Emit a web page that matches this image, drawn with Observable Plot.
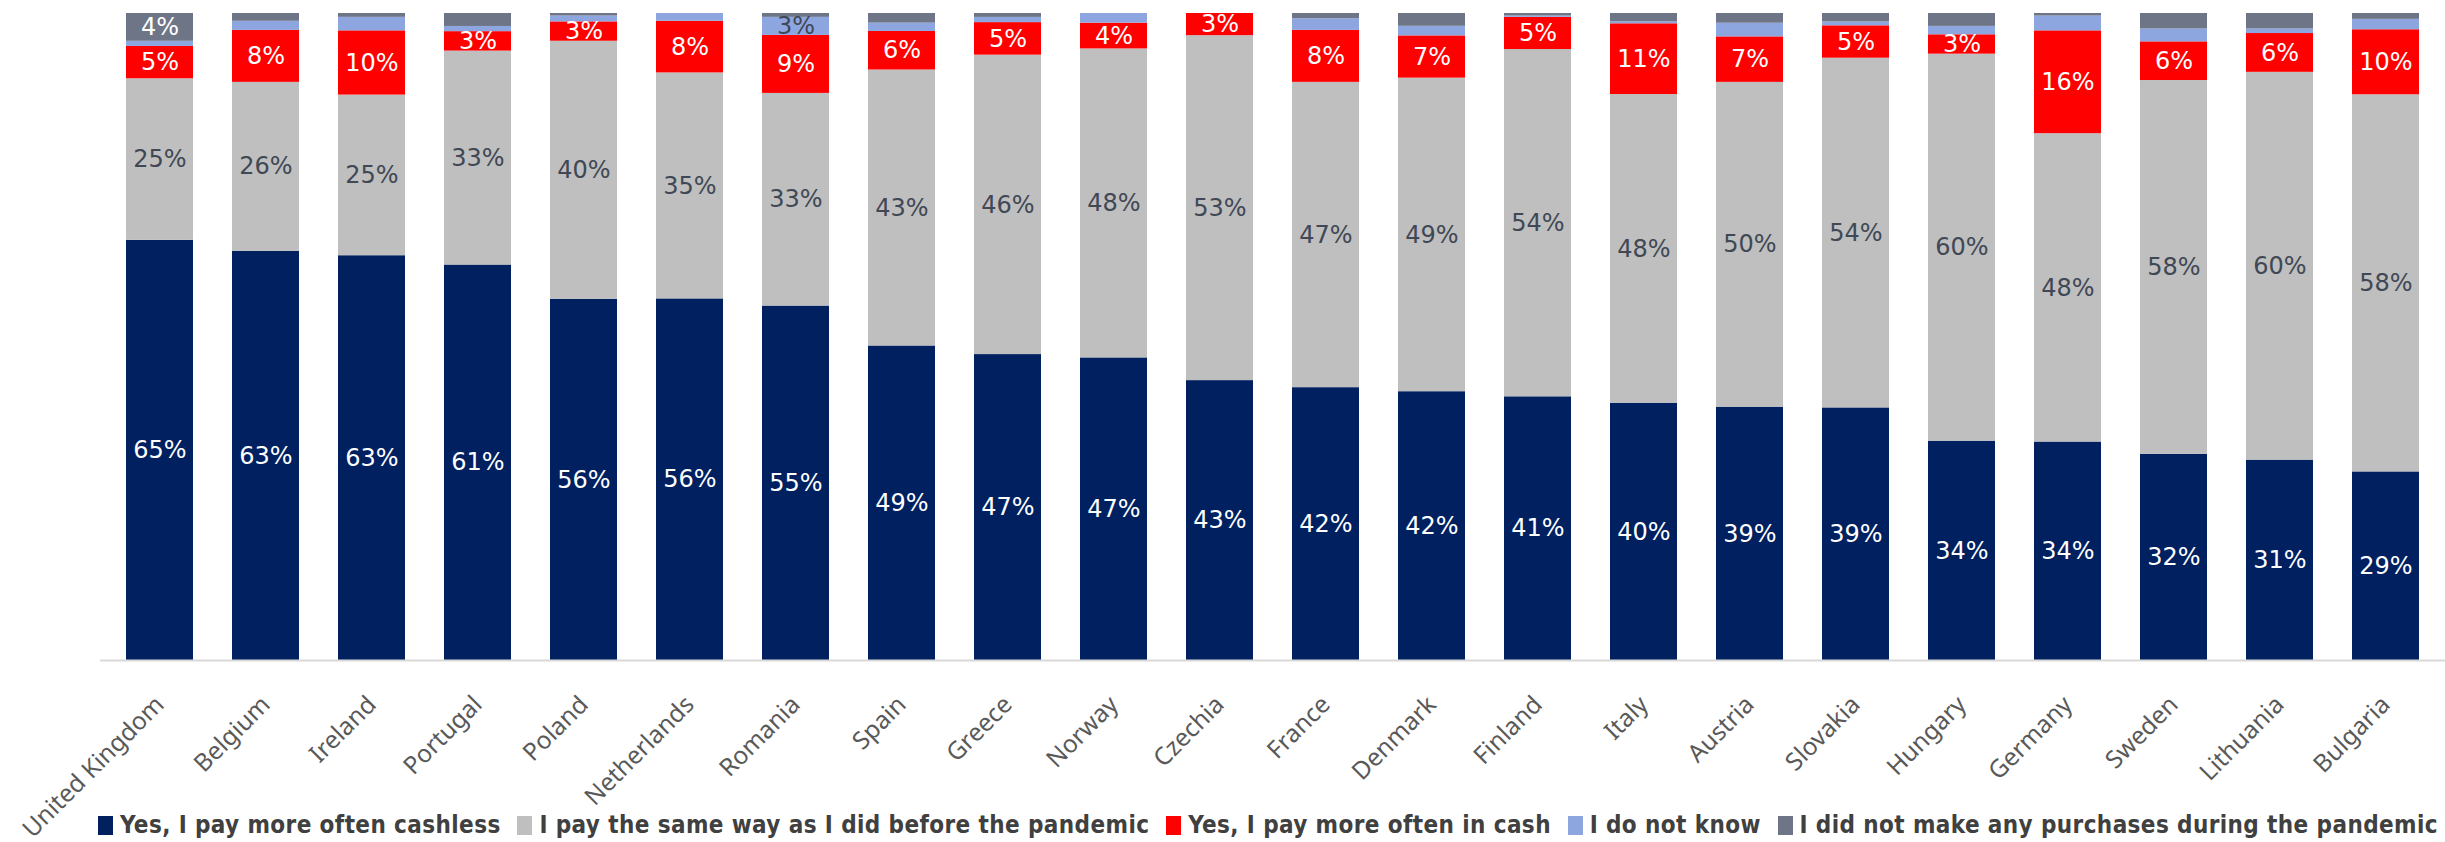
<!DOCTYPE html>
<html>
<head>
<meta charset="utf-8">
<script src="https://cdn.jsdelivr.net/npm/d3@7"></script>
<script src="https://cdn.jsdelivr.net/npm/@observablehq/plot@0.6"></script>
<style>
  html, body { margin: 0; padding: 0; background: #fff; }
  #wrap { position: relative; width: 2445px; height: 842px; overflow: hidden; }
  #chart svg { display: block; }
  #legend { position: absolute; left: 98px; top: 808px; width: 2340px; display: flex; justify-content: space-between; align-items: center; height: 34px;
    font-family: "DejaVu Sans Condensed", "DejaVu Sans", sans-serif; font-weight: bold; font-size: 24px; letter-spacing: 0.4px; color: #404040; white-space: nowrap; }
  #legend .item { display: flex; align-items: center; }
  #legend .sw { width: 15px; height: 19px; margin-right: 7px; }
</style>
</head>
<body>
<div id="wrap">
<div id="chart"></div>
<div id="legend"></div>
</div>
<script>
const countries = ["United Kingdom","Belgium","Ireland","Portugal","Poland","Netherlands","Romania","Spain","Greece","Norway","Czechia","France","Denmark","Finland","Italy","Austria","Slovakia","Hungary","Germany","Sweden","Lithuania","Bulgaria"];
const seriesNames = ["Yes, I pay more often cashless","I pay the same way as I did before the pandemic","Yes, I pay more often in cash","I do not know","I did not make any purchases during the pandemic"];
const seriesColors = ["#002060","#BFBFBF","#FF0000","#8EA6E0","#6E7587"];
const labelColors = ["#ffffff","#404855","#ffffff","#404855","#ffffff"];

const cashless = [65,63,63,61,56,56,55,49,47,47,43,42,42,41,40,39,39,34,34,32,31,29];
const same     = [25,26,25,33,40,35,33,43,46,48,53,47,49,54,48,50,54,60,48,58,60,58];
const cash     = [5,8,10,3,3,8,9,6,5,4,3.4,8,6.6,5,11,7,5,3,16,6,6,10];
const dontKnow = [0.8,1.4,2.1,0.8,0.9,1.2,2.8,1.3,0.8,1.5,0,1.8,1.5,0.2,0.3,2.1,0.6,1.3,2.3,2.0,0.7,1.6];
const noPurch  = [4.3,1.2,0.6,2.0,0.4,0,0.6,1.5,0.6,0,0,0.8,2.0,0.4,1.3,1.5,1.3,2.0,0.4,2.4,2.4,0.9];
const labelled = [[1,1,1,1,1,1,1,1,1,1,1,1,1,1,1,1,1,1,1,1,1,1],
                  [1,1,1,1,1,1,1,1,1,1,1,1,1,1,1,1,1,1,1,1,1,1],
                  [1,1,1,1,1,1,1,1,1,1,1,1,1,1,1,1,1,1,1,1,1,1],
                  [0,0,0,0,0,0,1,0,0,0,0,0,0,0,0,0,0,0,0,0,0,0],
                  [1,0,0,0,0,0,0,0,0,0,0,0,0,0,0,0,0,0,0,0,0,0]];

const allSeries = [cashless, same, cash, dontKnow, noPurch];
const data = [];
allSeries.forEach((vals, si) => {
  countries.forEach((c, ci) => {
    data.push({country: c, series: seriesNames[si], si, value: vals[ci], show: labelled[si][ci] === 1});
  });
});

const stackOpts = {x: "country", y: "value", z: "series", order: seriesNames, offset: "normalize"};

const chart = Plot.plot({
  width: 2445,
  height: 842,
  marginTop: 13,
  marginBottom: 182,
  marginLeft: 100,
  marginRight: 0,
  x: {domain: countries, paddingInner: 0.37, paddingOuter: 0.185, label: null},
  y: {axis: null, domain: [0, 1]},
  color: {domain: seriesNames, range: seriesColors},
  style: {fontFamily: "DejaVu Sans, Verdana, sans-serif", overflow: "visible"},
  marks: [
    Plot.barY(data, Plot.stackY({...stackOpts, fill: "series"})),
    Plot.text(data, Plot.stackY({
      ...stackOpts,
      text: d => d.show ? Math.round(d.value) + "%" : "",
      fill: d => labelColors[d.si],
      fontSize: 24
    })),
    Plot.ruleY([0], {stroke: "#D9D9D9", strokeWidth: 2}),
    Plot.axisX({tickSize: 0, tickPadding: 40, tickRotate: -45, fontSize: 24.5, fill: "#595959", fontFamily: "Noto Sans, Open Sans, sans-serif", label: null})
  ]
});
document.getElementById("chart").appendChild(chart);

const legend = document.getElementById("legend");
seriesNames.forEach((name, i) => {
  const item = document.createElement("div");
  item.className = "item";
  const sw = document.createElement("span");
  sw.className = "sw";
  sw.style.background = seriesColors[i];
  const t = document.createElement("span");
  t.textContent = name;
  item.appendChild(sw);
  item.appendChild(t);
  legend.appendChild(item);
});
</script>
</body>
</html>
